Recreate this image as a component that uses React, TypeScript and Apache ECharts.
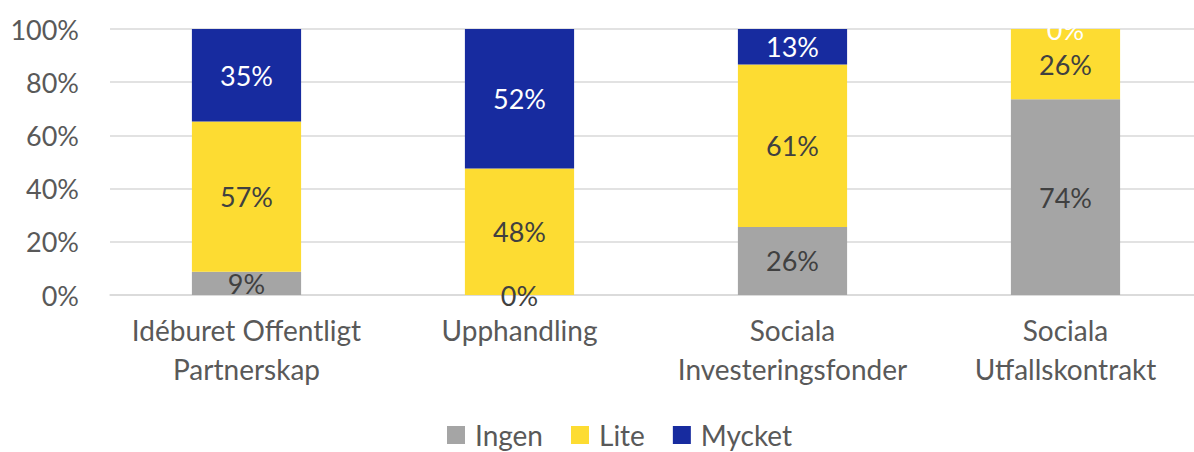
import React, { useEffect, useRef } from "react";
import * as echarts from "echarts";

const categories = [
  "Idéburet Offentligt\nPartnerskap",
  "Upphandling",
  "Sociala\nInvesteringsfonder",
  "Sociala\nUtfallskontrakt",
];
const seriesNames = ["Ingen", "Lite", "Mycket"];
const ingen = [8.7, 0, 25.6, 73.6];
const lite = [56.5, 47.6, 61.1, 26.4];
const mycket = [34.8, 52.4, 13.3, 0];

const FONT = "Lato";

export default function App() {
  const ref = useRef<HTMLDivElement>(null);
  useEffect(() => {
    if (!ref.current) return;
    const chart = echarts.init(ref.current, undefined, { renderer: "svg" });
    const colors = ["#A5A5A5", "#FDDC32", "#172B9F"];
    const labelColors = ["#404040", "#404040", "#FFFFFF"];
    const data = [ingen, lite, mycket];
    chart.setOption({
      animation: false,
      grid: { left: 110, right: 2, top: 29, bottom: 157 },
      legend: {
        data: seriesNames,
        top: 417,
        left: 447,
        padding: 0,
        icon: "rect",
        itemWidth: 18,
        itemHeight: 18,
        itemGap: 28,
        textStyle: {
          fontFamily: FONT,
          fontSize: 28,
          lineHeight: 36,
          color: "#595959",
          padding: [0, 0, 0, 5],
        },
      },
      xAxis: {
        type: "category",
        data: categories,
        axisTick: { show: false },
        axisLine: { lineStyle: { color: "#D9D9D9", width: 1.5 } },
        axisLabel: {
          interval: 0,
          margin: 15,
          fontFamily: FONT,
          fontSize: 28,
          lineHeight: 39,
          color: "#595959",
        },
      },
      yAxis: {
        type: "value",
        min: 0,
        max: 100,
        interval: 20,
        axisLine: { show: false },
        axisTick: { show: false },
        splitLine: { lineStyle: { color: "#D9D9D9", width: 1.5 } },
        axisLabel: {
          formatter: "{value}%",
          margin: 31,
          fontFamily: FONT,
          fontSize: 27,
          color: "#595959",
        },
      },
      series: seriesNames.map((name, i) => ({
        name,
        type: "bar",
        stack: "total",
        barWidth: "40%",
        data: data[i],
        itemStyle: { color: colors[i] },
        label: {
          show: true,
          position: "inside",
          formatter: (p: any) => Math.round(p.value) + "%",
          fontFamily: FONT,
          fontSize: 27,
          color: labelColors[i],
        },
      })),
    });
    return () => chart.dispose();
  }, []);
  return (
    <div
      ref={ref}
      style={{ position: "absolute", left: 0, top: 0, width: 1204, height: 452 }}
    />
  );
}
